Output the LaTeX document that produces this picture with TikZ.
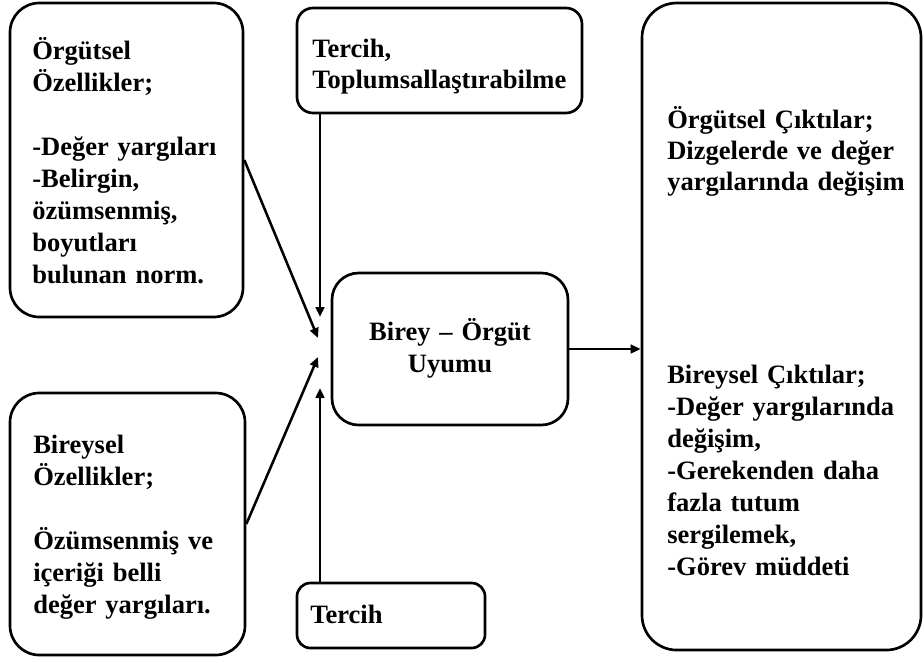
\documentclass[tikz,border=0pt]{standalone}
\usepackage{fontspec}
\setmainfont{Liberation Serif}
\usetikzlibrary{arrows.meta,fit}
\begin{document}
\begin{tikzpicture}[x=0.75pt,y=-0.75pt,
  box/.style={draw=black, line width=2pt, inner sep=0pt},
  lbl/.style={inner sep=0pt, anchor=base west, align=left,
    font=\fontsize{19.9pt}{24pt}\selectfont\bfseries},
  arr/.style={draw=black, line width=1.9pt,
    -{Triangle[length=7.5pt,width=6.5pt]}}
]
\useasboundingbox (0,0) rectangle (924,662);

% boxes
\node[box, rounded corners=22pt, fit={(10,3) (243,317)}] (A) {};
\node[box, rounded corners=22pt, fit={(10,393) (245,655)}] (B) {};
\node[box, rounded corners=12pt, fit={(297,8) (582,113)}] (C) {};
\node[box, rounded corners=20pt, fit={(332,273) (568,425)}] (D) {};
\node[box, rounded corners=10pt, fit={(297,583) (485,648)}] (E) {};
\node[box, rounded corners=26pt, fit={(642,3) (921,650)}] (F) {};

% texts
\node[lbl, text width=160pt] (At) at (32,59) {Örgütsel\\Özellikler;\\[24.2pt]-Değer yargıları\\-Belirgin,\\özümsenmiş,\\boyutları\\bulunan norm.};
\node[lbl, text width=165pt] (Bt) at (33,453) {Bireysel\\Özellikler;\\[24pt]Özümsenmiş ve\\içeriği belli\\değer yargıları.};
\node[lbl, text width=200pt, font=\fontsize{19.9pt}{23.3pt}\selectfont\bfseries] (Ct) at (312,57) {Tercih,\\Toplumsallaştırabilme};
\node[lbl, text width=150pt, anchor=base, align=center, font=\fontsize{19.9pt}{24.7pt}\selectfont\bfseries] (Dt) at (450,340) {Birey – Örgüt\\Uyumu};
\node[lbl, text width=100pt] (Et) at (310,623) {Tercih};
\node[lbl, text width=185pt, font=\fontsize{19.9pt}{23.3pt}\selectfont\bfseries] (Ft1) at (667,128) {Örgütsel Çıktılar;\\Dizgelerde ve değer\\yargılarında değişim};
\node[lbl, text width=185pt] (Ft2) at (667,383) {Bireysel Çıktılar;\\-Değer yargılarında\\değişim,\\-Gerekenden daha\\fazla tutum\\sergilemek,\\-Görev müddeti};

% arrow ends near the central box
\coordinate (pTop) at (320,317);
\coordinate (pA) at (318,338);
\coordinate (pB) at (318,357);
\coordinate (pBot) at (320,388);

% connectors
\draw[arr] (C.south -| pTop) -- (pTop);
\draw[arr] (A.east) -- (pA);
\draw[arr] (B.east) -- (pB);
\draw[arr] (E.north -| pBot) -- (pBot);
\draw[arr] (D.east) -- (F.west |- D.east);
\end{tikzpicture}
\end{document}
